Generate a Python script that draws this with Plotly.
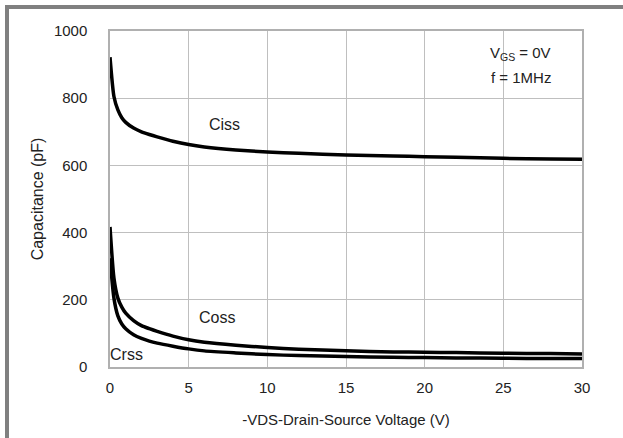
import plotly.graph_objects as go

vds = [0, 0.25, 0.5, 0.75, 1, 1.5, 2, 2.5, 3, 4, 5, 6, 8, 10, 12, 15, 18, 20, 22, 25, 28, 30]
ciss = [922, 805, 765, 742, 728, 711, 700, 692, 685, 672, 662, 655, 646, 640, 636, 631, 628, 626, 624, 621, 619, 618]
coss = [417, 265, 205, 178, 160, 138, 123, 114, 106, 92, 81, 74, 65, 58, 53, 48, 45, 44, 43, 41, 40, 39]
crss = [324, 205, 152, 128, 114, 96, 85, 77, 71, 62, 54, 48, 42, 37, 34, 31, 29, 28, 27, 26, 25, 25]

x_ticks = [0, 5, 10, 15, 20, 25, 30]
y_ticks = [0, 200, 400, 600, 800, 1000]

fig = go.Figure()
for name, ys in [("Ciss", ciss), ("Coss", coss), ("Crss", crss)]:
    fig.add_trace(go.Scatter(x=vds, y=ys, mode="lines", name=name,
                             line=dict(color="black", width=3.5, shape="spline", smoothing=0.6)))

FAM = "Liberation Sans, Arial, sans-serif"
font = dict(family=FAM, size=16, color="#222222")
labels = [("Ciss", 7.3, 723), ("Coss", 6.8, 147), ("Crss", 1.05, 36)]
for t, x, y in labels:
    fig.add_annotation(x=x, y=y, text=t, showarrow=False, font=font, xref="x", yref="y")

fig.add_annotation(x=26.1, y=932, text="V<sub>GS</sub> = 0V", showarrow=False,
                   font=dict(family=FAM, size=15, color="#222222"), xref="x", yref="y")
fig.add_annotation(x=26.1, y=862, text="f = 1MHz", showarrow=False,
                   font=dict(family=FAM, size=15, color="#222222"), xref="x", yref="y")

# outer frame (left and top gray bars)
L, R, T, B = 110, 582, 31, 367
W, H = R - L, B - T
def px(p):
    return (p - L) / W
def py(p):
    return (B - p) / H
fig.add_shape(type="rect", xref="paper", yref="paper", x0=px(5), x1=px(9), y0=py(5), y1=py(440),
              line=dict(width=0), fillcolor="#808080", layer="above")
fig.add_shape(type="rect", xref="paper", yref="paper", x0=px(5), x1=px(623), y0=py(5), y1=py(9),
              line=dict(width=0), fillcolor="#808080", layer="above")

fig.update_layout(
    width=623, height=438,
    margin=dict(l=L, r=623 - R, t=T, b=438 - B),
    paper_bgcolor="white", plot_bgcolor="white",
    showlegend=False,
    font=dict(family=FAM, size=14, color="#222222"),
)
fig.update_xaxes(range=[0, 30], tickvals=x_ticks, showgrid=True, gridcolor="#bfbfbf", gridwidth=1,
                 showline=True, linecolor="#b0b0b0", linewidth=1.5, mirror=True, zeroline=False,
                 ticks="", ticklabelstandoff=6, tickfont=dict(size=15),
                 title=dict(text="-VDS-Drain-Source Voltage (V)", font=dict(size=15), standoff=20))
fig.update_yaxes(range=[0, 1000], tickvals=y_ticks, showgrid=True, gridcolor="#bfbfbf", gridwidth=1,
                 showline=True, linecolor="#b0b0b0", linewidth=1.5, mirror=True, zeroline=False,
                 ticks="", ticklabelstandoff=18, tickfont=dict(size=15),
                 title=dict(text="Capacitance (pF)", font=dict(size=16), standoff=6))

fig.write_html("out.html", config={"displayModeBar": False},
               post_script="document.body.style.margin='0';document.body.style.overflow='hidden';")
